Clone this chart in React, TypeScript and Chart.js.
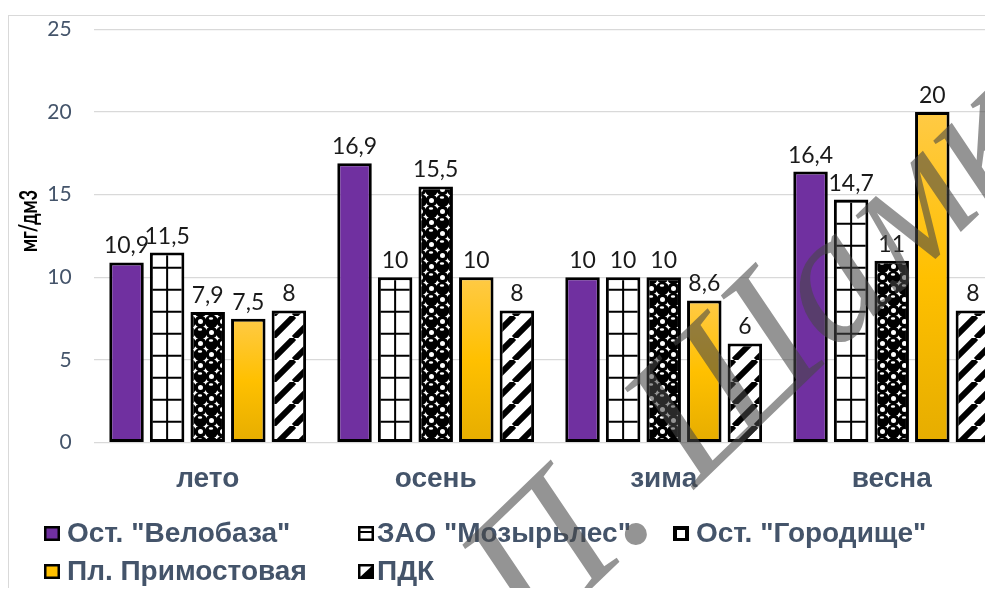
import React, { useEffect, useRef } from 'react';
import { Chart, registerables } from 'chart.js';

Chart.register(...registerables);

const categories = ['лето', 'осень', 'зима', 'весна'];
const seriesNames = ['Ост. "Велобаза"', 'ЗАО "Мозырьлес"', 'Ост. "Городище"', 'Пл. Примостовая', 'ПДК'];
const veloBaza = [10.9, 16.9, 10, 16.4];
const mozyrles = [11.5, 10, 10, 14.7];
const gorodische = [7.9, 15.5, 10, 11];
const primostovaya = [7.5, 10, 8.6, 20];
const pdk = [8, 8, 6, 8];
const yMin = 0;
const yMax = 25;
const yStep = 5;
const yTitle = 'мг/дм3';
const watermarkText = 'П. Шамко';

const CW = 1016;
const CH = 580;
const CAT_PCT = 0.89;
const BAR_PCT = 0.85;

function gridTile() {
  const c = document.createElement('canvas');
  c.width = 17; c.height = 22;
  const g = c.getContext('2d')!;
  g.fillStyle = '#fff'; g.fillRect(0, 0, 17, 22);
  g.fillStyle = '#000';
  g.fillRect(0, 0, 17, 2);
  g.fillRect(0, 0, 2, 22);
  return c;
}

function makeDots(ctx: CanvasRenderingContext2D) {
  const c = document.createElement('canvas');
  c.width = 22; c.height = 22;
  const g = c.getContext('2d')!;
  g.fillStyle = '#fff'; g.fillRect(0, 0, 22, 22);
  const ball = (x: number, y: number) => {
    g.fillStyle = '#000';
    g.beginPath(); g.arc(x, y, 6.6, 0, Math.PI * 2); g.fill();
    g.fillStyle = '#fff';
    g.beginPath(); g.ellipse(x - 0.5, y - 3, 2.2, 1.2, 0, 0, Math.PI * 2); g.fill();
  };
  const ring = (x: number, y: number) => {
    g.strokeStyle = '#000'; g.lineWidth = 3.4;
    g.beginPath(); g.arc(x, y, 4.2, 0, Math.PI * 2); g.stroke();
  };
  ball(5.5, 5.5); ball(16.5, 16.5); ring(16.5, 5.5); ring(5.5, 16.5);
  ball(27.5, -5.5); ball(-5.5, 27.5);
  return ctx.createPattern(c, 'repeat')!;
}

function makeStripes(ctx: CanvasRenderingContext2D) {
  const c = document.createElement('canvas');
  c.width = 22; c.height = 22;
  const g = c.getContext('2d')!;
  g.fillStyle = '#fff'; g.fillRect(0, 0, 22, 22);
  g.strokeStyle = '#000'; g.lineWidth = 6;
  for (const o of [-22, 0, 22]) {
    g.beginPath(); g.moveTo(o, 22); g.lineTo(o + 22, 0); g.stroke();
  }
  return ctx.createPattern(c, 'repeat')!;
}

const fmt = (v: number) => String(v).replace('.', ',');

export default function App() {
  const ref = useRef<HTMLCanvasElement | null>(null);

  useEffect(() => {
    document.documentElement.style.overflow = 'hidden';
    const canvas = ref.current!;
    const c2d = canvas.getContext('2d')!;
    const gTile = gridTile();
    const dotsP = makeDots(c2d);
    const stripesP = makeStripes(c2d);

    const gridFill = (ctx: any) => {
      const chart = ctx.chart;
      const p = chart.ctx.createPattern(gTile, 'repeat');
      const area = chart.chartArea;
      if (!area || ctx.type !== 'data' || !chart.scales.x) return p;
      const catW = area.width / categories.length;
      const pitch = (catW * CAT_PCT) / 5;
      const cx = chart.scales.x.getPixelForValue(ctx.dataIndex) + (ctx.datasetIndex - 2) * pitch;
      p.setTransform(new DOMMatrix([1, 0, 0, 1, cx - 1, area.bottom]));
      return p;
    };

    const yellow = (ctx: any) => {
      const chart = ctx.chart;
      const area = chart.chartArea;
      if (!area || ctx.type !== 'data' || !chart.scales.y) return '#FFC000';
      const top = chart.scales.y.getPixelForValue(ctx.raw as number);
      const g = chart.ctx.createLinearGradient(0, top, 0, area.bottom);
      g.addColorStop(0, '#FFCA45');
      g.addColorStop(0.5, '#FFC000');
      g.addColorStop(1, '#E6AD00');
      return g;
    };

    const legendMarkers = [
      { x: 36, row: 0, tx: 59 },
      { x: 350, row: 0, tx: 369 },
      { x: 665, row: 0, tx: 688 },
      { x: 36, row: 1, tx: 59 },
      { x: 350, row: 1, tx: 369 },
    ];
    const rowBase = [534, 572];

    const plugin = {
      id: 'custom',
      beforeDraw(chart: any) {
        const ctx = chart.ctx;
        ctx.save();
        ctx.strokeStyle = '#D9D9D9';
        ctx.lineWidth = 1;
        ctx.strokeRect(0.5, 7.5, 1200, 700);
        ctx.restore();
      },
      afterDatasetsDraw(chart: any) {
        const ctx = chart.ctx;
        ctx.save();
        ctx.font = '23px Lato';
        ctx.fillStyle = '#1a1a1a';
        ctx.textAlign = 'center';
        ctx.textBaseline = 'alphabetic';
        chart.data.datasets.forEach((ds: any, i: number) => {
          const meta = chart.getDatasetMeta(i);
          meta.data.forEach((el: any, j: number) => {
            ctx.fillText(fmt(ds.data[j]), el.x, el.y - 9);
          });
        });
        ctx.restore();
      },
      afterDraw(chart: any) {
        const ctx = chart.ctx;
        // y axis title
        ctx.save();
        ctx.translate(21, 213);
        ctx.rotate(-Math.PI / 2);
        ctx.scale(0.76, 1);
        ctx.font = 'bold 24px Lato';
        ctx.fillStyle = '#000';
        ctx.textAlign = 'center';
        ctx.textBaseline = 'middle';
        ctx.fillText(yTitle, 0, 0);
        ctx.restore();

        // legend
        ctx.save();
        legendMarkers.forEach((m, i) => {
          const y = rowBase[m.row] - 16;
          const w = 16, h = 15;
          ctx.lineWidth = 2.5;
          ctx.strokeStyle = '#000';
          if (i === 0) { ctx.fillStyle = '#7030A0'; ctx.fillRect(m.x, y, w, h); }
          else if (i === 1) {
            ctx.fillStyle = '#fff'; ctx.fillRect(m.x, y, w, h);
            ctx.fillStyle = '#000'; ctx.fillRect(m.x, y + 5, w, 2);
          } else if (i === 2) {
            ctx.fillStyle = '#000'; ctx.fillRect(m.x, y, w, h);
            ctx.fillStyle = '#fff'; ctx.fillRect(m.x + 4, y + 4, w - 8, h - 7);
          } else if (i === 3) { ctx.fillStyle = '#FFC000'; ctx.fillRect(m.x, y, w, h); }
          else {
            ctx.fillStyle = '#fff'; ctx.fillRect(m.x, y, w, h);
            ctx.fillStyle = '#000';
            ctx.beginPath(); ctx.moveTo(m.x + w, y); ctx.lineTo(m.x + w, y + h); ctx.lineTo(m.x, y + h); ctx.closePath(); ctx.fill();
          }
          ctx.strokeRect(m.x + 1.25, y + 1.25, w - 2.5, h - 2.5);
          ctx.font = 'bold 28px "Liberation Sans"';
          ctx.fillStyle = '#44546A';
          ctx.textAlign = 'left';
          ctx.textBaseline = 'alphabetic';
          ctx.fillText(seriesNames[i], m.tx, rowBase[m.row]);
        });
        ctx.restore();

        // watermark
        ctx.save();
        const ang = -44 * Math.PI / 180;
        ctx.font = 'italic 185px "Liberation Serif"';
        const wP = ctx.measureText('П').width;
        const wDot = ctx.measureText('.').width;
        const tx = 637, ty = 529;
        const d = wP + wDot / 2;
        const ox = tx - d * Math.cos(ang);
        const oy = ty - d * Math.sin(ang);
        ctx.translate(ox, oy);
        ctx.rotate(ang);
        ctx.fillStyle = 'rgba(70,70,70,0.58)';
        ctx.textBaseline = 'alphabetic';
        ctx.fillText(watermarkText, 0, 0);
        ctx.restore();
      },
    };

    const chart = new Chart(canvas, {
      type: 'bar',
      data: {
        labels: categories,
        datasets: [
          { label: seriesNames[0], data: veloBaza, backgroundColor: '#7030A0' },
          { label: seriesNames[1], data: mozyrles, backgroundColor: gridFill as any },
          { label: seriesNames[2], data: gorodische, backgroundColor: dotsP as any },
          { label: seriesNames[3], data: primostovaya, backgroundColor: yellow as any },
          { label: seriesNames[4], data: pdk, backgroundColor: stripesP as any },
        ].map((d) => ({
          ...d,
          borderColor: '#000',
          borderWidth: 3,
          borderSkipped: false as any,
          categoryPercentage: CAT_PCT,
          barPercentage: BAR_PCT,
        })),
      },
      options: {
        animation: false,
        responsive: false,
        layout: { padding: { left: 0, right: 18.3, top: 21.3, bottom: CH - 434.7 - 65.3 } },
        plugins: { legend: { display: false }, tooltip: { enabled: false } },
        scales: {
          x: {
            grid: { display: false, drawTicks: false },
            border: { display: false },
            ticks: {
              color: '#44546A',
              padding: 20,
              font: { family: '"Liberation Sans"', size: 28, weight: 'bold' },
            },
            afterFit: (s: any) => { s.height = 65.3; },
          },
          y: {
            min: yMin,
            max: yMax,
            ticks: {
              stepSize: yStep,
              padding: 22,
              color: '#44546A',
              font: { family: 'Lato', size: 21 },
            },
            grid: { color: '#D9D9D9', lineWidth: 1.3, drawTicks: false },
            border: { display: false },
            afterFit: (s: any) => { s.width = 85.7; s.paddingTop = 0; s.paddingBottom = 0; },
          },
        },
      },
      plugins: [plugin],
    });
    return () => chart.destroy();
  }, []);

  return (
    <div style={{ position: 'relative', width: 985, height: CH, overflow: 'hidden' }}>
      <canvas ref={ref} width={CW} height={CH} style={{ width: CW, height: CH, display: 'block' }} />
    </div>
  );
}
